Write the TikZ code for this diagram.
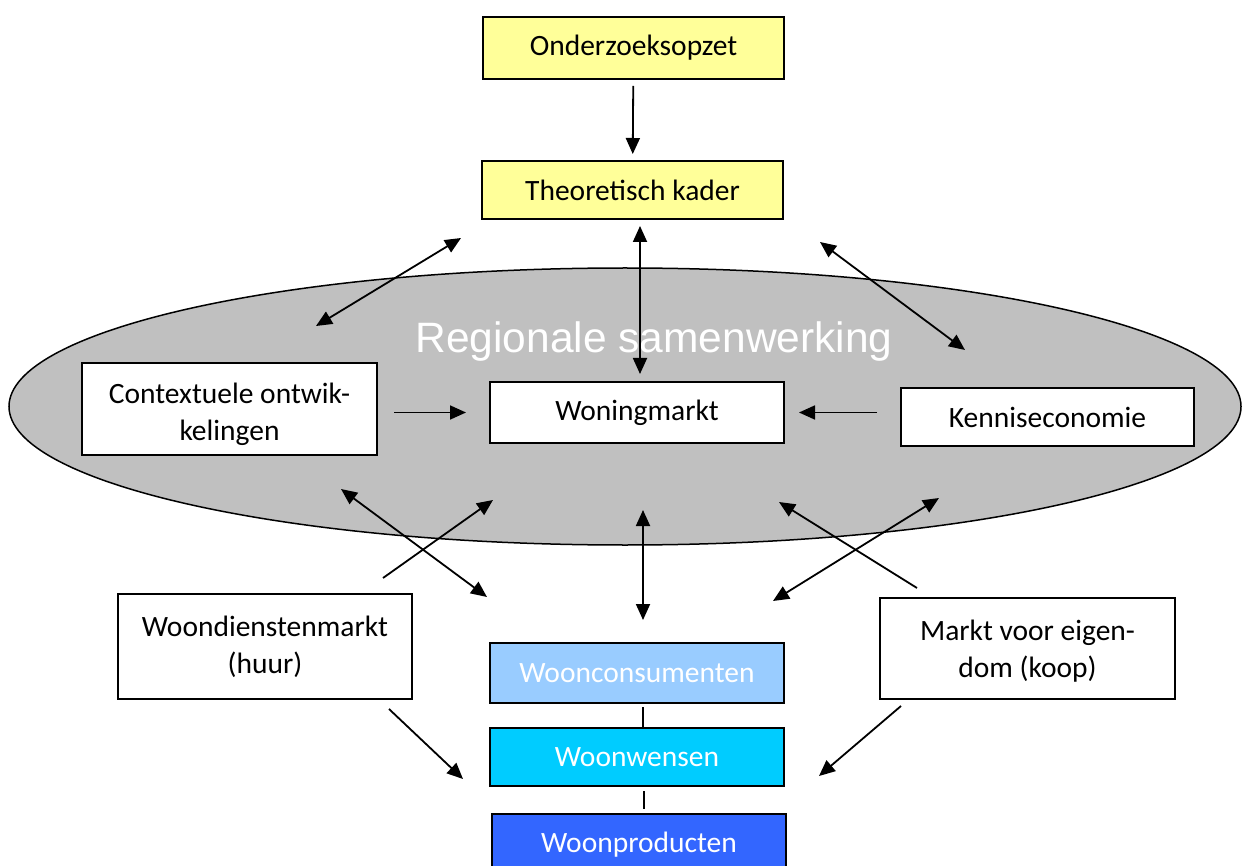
\documentclass[tikz,border=0pt]{standalone}
\usepackage{fontspec}
\setmainfont{Carlito}
\newfontfamily\arialf{Liberation Sans}
\usetikzlibrary{arrows.meta}
\definecolor{yel}{HTML}{FFFF99}
\definecolor{ellgray}{HTML}{C0C0C0}
\definecolor{lblue}{HTML}{99CCFF}
\definecolor{cyanb}{HTML}{00CCFF}
\definecolor{dblue}{HTML}{3366FF}
\tikzset{
  box/.style={draw=black, line width=2pt, fill=white, inner sep=0pt, align=center,
    font=\fontsize{29.5}{37}\selectfont},
  tip/.tip={Triangle[length=16pt,width=14pt]},
  arr/.style={line width=1.8pt, -tip},
  darr/.style={line width=1.8pt, tip-tip},
  plain/.style={line width=1.8pt}
}
\begin{document}
\begin{tikzpicture}[x=1pt,y=-1pt]
\useasboundingbox[fill=white] (0,0) rectangle (1242,866);
% ellipse
\draw[fill=ellgray, line width=1.5pt] (625,406.5) ellipse [x radius=616, y radius=138.5];
\node (reg) at (654,342) {\arialf\fontsize{42.5}{50}\selectfont\color{white}Regionale samenwerking};
% boxes
\node[box, fill=yel, minimum width=301pt, minimum height=62pt] (onder) at (633.5,48) {Onderzoeksopzet};
\node[box, fill=yel, minimum width=301pt, minimum height=58pt] (theo) at (632.5,190) {Theoretisch kader};
\node[box, minimum width=295pt, minimum height=92pt] (ctx) at (229.5,409) {};
\node (ctxt) at (229.5,414) [align=center, font=\fontsize{29.5}{37}\selectfont] {Contextuele ontwik-\\kelingen};
\node[box, minimum width=294pt, minimum height=61pt] (won) at (637,412.5) {Woningmarkt};
\node[box, minimum width=293pt, minimum height=58pt] (ken) at (1047.5,417) {Kenniseconomie};
\node[box, minimum width=294pt, minimum height=105pt] (wdm) at (265,646.5) {Woondienstenmarkt\\(huur)};
\node[box, minimum width=295pt, minimum height=101pt] (mve) at (1027.5,648.5) {};
\node (mvet) at (1027.5,651) [align=center, font=\fontsize{29.5}{37}\selectfont] {Markt voor eigen-\\dom (koop)};
\node[box, fill=lblue, text=white, minimum width=294pt, minimum height=60pt] (wc) at (637,673) {Woonconsumenten};
\node[box, fill=cyanb, text=white, minimum width=294pt, minimum height=58pt] (ww) at (637,757) {Woonwensen};
\node[box, fill=dblue, minimum width=294pt, minimum height=90pt] (wp) at (639,859) {};
\node[font=\fontsize{29.5}{37}\selectfont, text=white] (wpt) at (639,845) {Woonproducten};
% free-end coordinates
\coordinate (a1) at (461,238); \coordinate (a2) at (316,326);
\coordinate (b1) at (820,242); \coordinate (b2) at (965,350);
\coordinate (c1) at (341,489); \coordinate (c2) at (487,597);
\coordinate (d1) at (383,578); \coordinate (d2) at (493,500);
\coordinate (e1) at (643,510); \coordinate (e2) at (643,620);
\coordinate (f1) at (917,588); \coordinate (f2) at (779,502);
\coordinate (g1) at (939,498); \coordinate (g2) at (773,601);
\coordinate (h1) at (389,709); \coordinate (h2) at (463,779);
\coordinate (i1) at (901,706); \coordinate (i2) at (819,776);
% connectors
\draw[arr, shorten <=6pt, shorten >=6pt] (onder) -- (theo);
\draw[darr, shorten <=6pt, shorten >=7pt] ([xshift=7.5pt]theo.south) -- ([xshift=3pt]won.north);
\draw[darr] (a1) -- (a2);
\draw[darr] (b1) -- (b2);
\draw[arr, shorten <=16pt, shorten >=23pt] (ctx.east |- won.west) -- (won.west);
\draw[arr, shorten <=23pt, shorten >=14pt] (ken.west |- won.east) -- (won.east);
\draw[darr] (c1) -- (c2);
\draw[arr] (d1) -- (d2);
\draw[darr] (e1) -- (e2);
\draw[arr] (f1) -- (f2);
\draw[darr] (g1) -- (g2);
\draw[arr] (h1) -- (h2);
\draw[arr] (i1) -- (i2);
\draw[plain, shorten <=3pt] ([xshift=6pt]wc.south) -- ([xshift=6pt]ww.north);
\draw[plain, shorten <=4pt, shorten >=4pt] ([xshift=7pt]ww.south) -- ([xshift=5pt]wp.north);
\end{tikzpicture}
\end{document}
